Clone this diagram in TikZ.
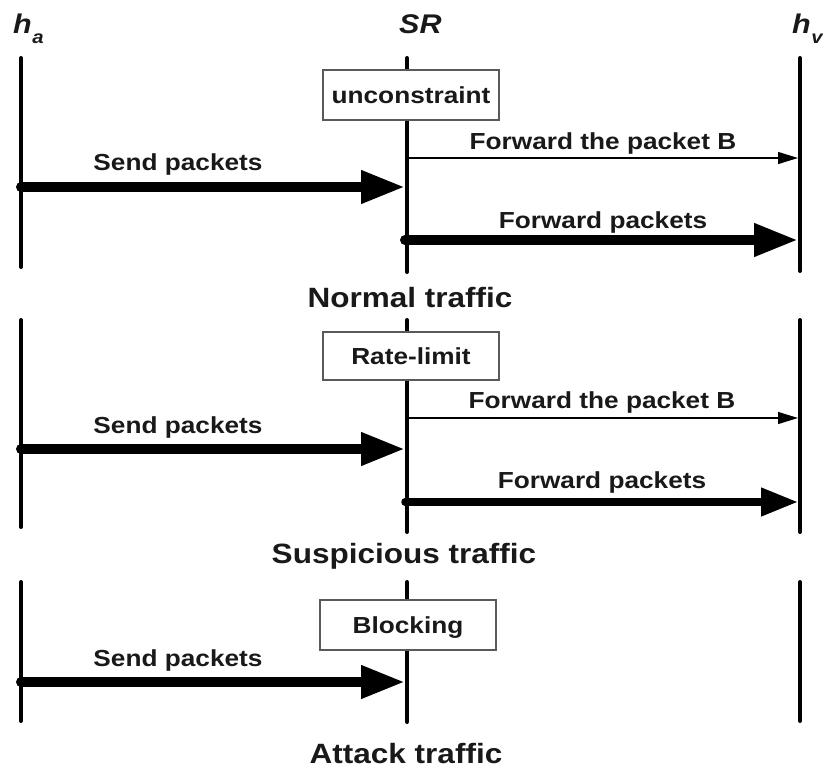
\documentclass[tikz,border=0pt]{standalone}
\usepackage{fontspec}
\newfontfamily\lbs[FakeStretch=1.13]{Liberation Sans}
\usetikzlibrary{arrows.meta}
\begin{document}
\begin{tikzpicture}[x=1pt,y=-1pt,
  life/.style={line width=4pt, line cap=round, draw=black},
  box/.style={draw=black!65, line width=1.5pt, fill=white, minimum width=176pt,
    minimum height=50pt, inner sep=0pt, text height=16pt, text depth=0pt,
    font={\lbs\bfseries\fontsize{23.2}{27}\selectfont}, text=black!90},
  msg/.style={anchor=base, inner sep=0pt, text=black!90,
    font={\lbs\bfseries\fontsize{23.2}{27}\selectfont}},
  big/.style={anchor=base, inner sep=0pt, text=black!90,
    font={\lbs\bfseries\fontsize{27.9}{32}\selectfont}},
  head/.style={anchor=base west, inner sep=0pt, text=black!90,
    font={\lbs\bfseries\itshape\fontsize{27}{30}\selectfont}},
  thinarr/.style={line width=1.3pt, -{Triangle[length=20pt 0 0,width=12pt 0 0]}},
  fatarr/.style={line width=10pt, line cap=round, -{Triangle[length=44pt 0 0,width=31pt 0 0]}},
  midarr/.style={line width=7.5pt, line cap=round, -{Triangle[length=37pt 0 0,width=27pt 0 0]}},
  ]
\useasboundingbox (0,0) rectangle (823,771);

% headers
\node[head] (ha) at (13,33) {h\kern0.5pt\lower10pt\hbox{\fontsize{18}{18}\selectfont a}};
\node[head] (sr) at (399,33) {SR};
\node[head] (hv) at (792,33) {h\kern0.5pt\lower10pt\hbox{\fontsize{18}{18}\selectfont v}};

% ---------- section 1 ----------
\coordinate (A1t) at (21,58);  \coordinate (A1b) at (21,267);
\coordinate (S1t) at (407,58); \coordinate (S1b) at (407,272);
\coordinate (V1t) at (800,58); \coordinate (V1b) at (800,271);
\draw[life] (A1t) -- (A1b);
\draw[life] (S1t) -- (S1b);
\draw[life] (V1t) -- (V1b);
\node[box] (b1) at (411,95) {unconstraint};

\coordinate (S1f) at (409,158); \coordinate (V1f) at (798,158);
\coordinate (A1s) at (21,187);  \coordinate (S1s) at (405,187);
\coordinate (S1p) at (405,240); \coordinate (V1p) at (798,240);
\draw[thinarr] (S1f) -- (V1f);
\draw[fatarr] (A1s) -- (S1s);
\draw[fatarr] (S1p) -- (V1p);
\node[msg] (t1f) at (603,149) {Forward the packet B};
\node[msg] (t1s) at (178,170) {Send packets};
\node[msg] (t1p) at (603,228) {Forward packets};
\node[big] (n1) at (410,307.5) {Normal traffic};

% ---------- section 2 ----------
\coordinate (A2t) at (21,320);  \coordinate (A2b) at (21,527);
\coordinate (S2t) at (407,320); \coordinate (S2b) at (407,532);
\coordinate (V2t) at (800,320); \coordinate (V2b) at (800,532);
\draw[life] (A2t) -- (A2b);
\draw[life] (S2t) -- (S2b);
\draw[life] (V2t) -- (V2b);
\node[box, minimum height=48pt] (b2) at (411,356) {Rate-limit};

\coordinate (S2f) at (409,418); \coordinate (V2f) at (798,418);
\coordinate (A2s) at (21,449);  \coordinate (S2s) at (405,449);
\coordinate (S2p) at (405,502); \coordinate (V2p) at (798,502);
\draw[thinarr] (S2f) -- (V2f);
\draw[fatarr] (A2s) -- (S2s);
\draw[midarr] (S2p) -- (V2p);
\node[msg] (t2f) at (602,408) {Forward the packet B};
\node[msg] (t2s) at (178,433) {Send packets};
\node[msg] (t2p) at (602,488) {Forward packets};
\node[big] (n2) at (404,563) {Suspicious traffic};

% ---------- section 3 ----------
\coordinate (A3t) at (21,582);  \coordinate (A3b) at (21,721);
\coordinate (S3t) at (407,582); \coordinate (S3b) at (407,722);
\coordinate (V3t) at (800,582); \coordinate (V3b) at (800,721);
\draw[life] (A3t) -- (A3b);
\draw[life] (S3t) -- (S3b);
\draw[life] (V3t) -- (V3b);
\node[box] (b3) at (408,625) {Blocking};

\coordinate (A3s) at (21,682);  \coordinate (S3s) at (405,682);
\draw[fatarr] (A3s) -- (S3s);
\node[msg] (t3s) at (178,666) {Send packets};
\node[big] (n3) at (406,763) {Attack traffic};
\end{tikzpicture}
\end{document}
